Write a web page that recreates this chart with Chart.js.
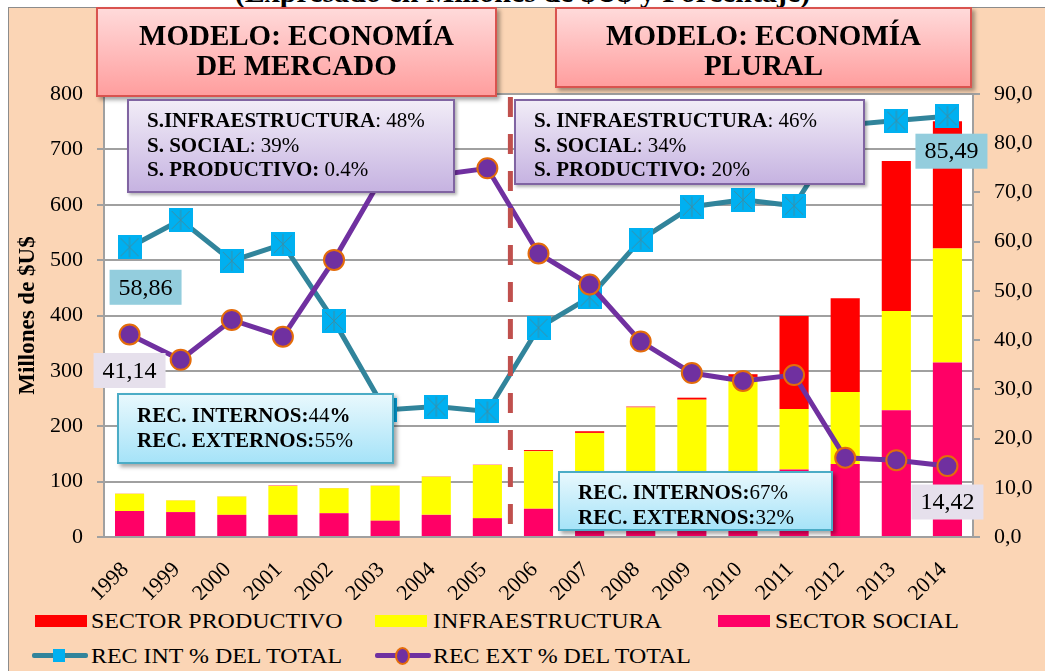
<!DOCTYPE html>
<html>
<head>
<meta charset="utf-8">
<script src="https://cdn.jsdelivr.net/npm/chart.js@4.4.1/dist/chart.umd.min.js"></script>
<style>
  body { margin: 0; width: 1045px; height: 671px; overflow: hidden; background: #fff; position: relative;
         font-family: "Liberation Serif", "Times New Roman", serif; color: #000; }
  #head { position: absolute; left: 0; top: -23px; width: 1045px; text-align: center;
          font-weight: bold; font-size: 30px; line-height: 30px; }
  #frame { position: absolute; left: 8px; top: 7px; right: 0; bottom: 0; background: #FBD5B5;
           border-left: 1px solid #8c8c8c; border-top: 1px solid #8c8c8c; }
  #wrap { position: absolute; left: 0; top: 0; width: 1045px; height: 600px; }
  .box { position: absolute; box-sizing: border-box; white-space: nowrap; }
  .model { border: 2px solid #D9534F; background: linear-gradient(#FFDADA, #FF9E9E);
           box-shadow: 3px 3px 4px rgba(0,0,0,0.35); text-align: center; font-weight: bold;
           font-size: 29px; line-height: 30px; padding-top: 11px; }
  .share { border: 2px solid #8064A2; background: linear-gradient(#F1ECF7, #C6B3E1);
           box-shadow: 2px 2px 3px rgba(0,0,0,0.3); font-size: 21px; line-height: 24.5px;
           padding: 7px 0 0 18px; }
  .rec { border: 2px solid #4BACC6; background: linear-gradient(#E8F8FD, #A6E3F8);
         box-shadow: 3px 3px 4px rgba(0,0,0,0.35); font-size: 21px; line-height: 25px;
         padding: 8px 0 0 18px; }
  .legend { position: absolute; font-size: 21px; line-height: 24px; }
  .legend span.t { display: inline-block; transform: scaleX(1.14); transform-origin: left center; }
  .sw { position: absolute; width: 52px; height: 12px; }
  .ln { position: absolute; width: 56px; height: 5px; }
  .mk { position: absolute; }
</style>
</head>
<body>
<div id="head">(Expresado en Millones de $U$ y Porcentaje)</div>
<div id="frame"></div>
<div id="wrap"><canvas id="chart"></canvas></div>

<div class="box model" style="left:96px;top:7px;width:401px;height:90px;">MODELO: ECONOMÍA<br>DE MERCADO</div>
<div class="box model" style="left:555px;top:7px;width:417px;height:81px;">MODELO: ECONOMÍA<br>PLURAL</div>

<div class="box share" style="left:127px;top:99px;width:328px;height:94px;">
  <b>S.INFRAESTRUCTURA</b>: 48%<br><b>S. SOCIAL</b>: 39%<br><b>S. PRODUCTIVO:</b> 0.4%
</div>
<div class="box share" style="left:514px;top:99px;width:351px;height:86px;">
  <b>S. INFRAESTRUCTURA</b>: 46%<br><b>S. SOCIAL</b>: 34%<br><b>S. PRODUCTIVO:</b> 20%
</div>

<div class="box rec" style="left:117px;top:393px;width:277px;height:71px;">
  <b>REC. INTERNOS:</b>44<b>%</b><br><b>REC. EXTERNOS:</b>55%
</div>
<div class="box rec" style="left:558px;top:471px;width:275px;height:60px;padding-top:7px;">
  <b>REC. INTERNOS:</b>67%<br><b>REC. EXTERNOS:</b>32%
</div>

<!-- legend -->
<div class="sw" style="left:35px;top:615px;background:#FF0000;"></div>
<div class="legend" style="left:91px;top:609px;"><span class="t">SECTOR PRODUCTIVO</span></div>
<div class="sw" style="left:375px;top:615px;background:#FFFF00;"></div>
<div class="legend" style="left:433px;top:609px;"><span class="t">INFRAESTRUCTURA</span></div>
<div class="sw" style="left:718px;top:615px;background:#FF0066;"></div>
<div class="legend" style="left:775px;top:609px;"><span class="t">SECTOR SOCIAL</span></div>

<div class="ln" style="left:32px;top:653px;background:#31849B;border-radius:2px;"></div>
<div class="mk" style="left:53px;top:649px;width:12px;height:13px;background:#00B0F0;"></div>
<div class="legend" style="left:91px;top:644px;"><span class="t">REC INT % DEL TOTAL</span></div>
<div class="ln" style="left:375px;top:653px;background:#7030A0;border-radius:2px;"></div>
<div class="mk" style="left:395px;top:647px;width:11px;height:14px;background:#7030A0;border:2px solid #E46C0A;border-radius:50%;"></div>
<div class="legend" style="left:433px;top:644px;"><span class="t">REC EXT % DEL TOTAL</span></div>

<script>
// ---- Data (millones de $U$ y porcentaje) ----
const YEARS = ["1998", "1999", "2000", "2001", "2002", "2003", "2004", "2005", "2006",
  "2007", "2008", "2009", "2010", "2011", "2012", "2013", "2014"];

const SECTOR_SOCIAL = [47, 45, 40, 40, 43, 29.5, 40, 34, 51, 60, 70, 80, 94, 122, 132, 229, 315];
const INFRAESTRUCTURA = [31, 21, 33, 52, 45, 63, 69, 96, 104, 128, 164, 168, 195, 109, 130, 179, 206];
const SECTOR_PRODUCTIVO = [0.3, 0.3, 0.3, 0.8, 0.5, 0.3, 0.5, 0.5, 2, 3, 1.5, 3.6, 5, 168, 169, 271, 230];

const REC_INT = [58.86, 64.4, 56.1, 59.5, 43.9, 25.8, 26.5, 25.5, 42.5, 48.7, 60.4, 67.1, 68.5, 67.3, 83.7, 84.6, 85.49];
const REC_EXT = [41.14, 36.0, 44.1, 40.7, 56.3, 74.2, 73.5, 74.9, 57.6, 51.3, 39.7, 33.3, 31.7, 32.9, 16.1, 15.6, 14.42];

const LEFT_TICKS = { min: 0, max: 800, step: 100 };
const RIGHT_TICKS = { min: 0, max: 90, step: 10 };

// divider between both economic models (category index, between 2005 and 2006)
const DIVIDER_AT = 7.45;

const FONT = "'Liberation Serif', 'Times New Roman', serif";
const GRID = "#A0A0A0";

// ---- Marker for REC INT: blue square with a star ----
function squareMarker(size) {
  const c = document.createElement("canvas");
  c.width = size; c.height = size;
  const g = c.getContext("2d");
  g.fillStyle = "#00B0F0";
  g.fillRect(0, 0, size, size);
  g.strokeStyle = "#3A8FA8";
  g.lineWidth = 1;
  g.beginPath();
  g.moveTo(3, 3); g.lineTo(size - 3, size - 3);
  g.moveTo(size - 3, 3); g.lineTo(3, size - 3);
  g.moveTo(size / 2, 2); g.lineTo(size / 2, size - 2);
  g.stroke();
  return c;
}

// value callouts on the first / last points of both lines
const CALLOUTS = [
  { ds: 3, idx: 0, dx: 16, dy: 40, bg: "#93CDDD" },
  { ds: 3, idx: 16, dx: 4, dy: 35, bg: "#93CDDD" },
  { ds: 4, idx: 0, dx: 0, dy: 36, bg: "#E6E0EC" },
  { ds: 4, idx: 16, dx: 0, dy: 36, bg: "#E6E0EC" },
];

const plotBackground = {
  id: "plotBackground",
  beforeDraw(chart) {
    const a = chart.chartArea;
    chart.ctx.save();
    chart.ctx.fillStyle = "#fff";
    chart.ctx.fillRect(a.left, a.top, a.right - a.left, a.bottom - a.top);
    chart.ctx.restore();
  },
};

const dividerLine = {
  id: "dividerLine",
  afterDatasetsDraw(chart) {
    const x = chart.scales.x.getPixelForValue(DIVIDER_AT);
    const a = chart.chartArea;
    const ctx = chart.ctx;
    ctx.save();
    ctx.strokeStyle = "#C0504D";
    ctx.lineWidth = 5;
    ctx.setLineDash([20, 17]);
    ctx.beginPath();
    ctx.moveTo(x, a.top + 3);
    ctx.lineTo(x, a.bottom);
    ctx.stroke();
    ctx.restore();
  },
};

const callouts = {
  id: "callouts",
  afterDatasetsDraw(chart) {
    const ctx = chart.ctx;
    ctx.save();
    ctx.font = "24px " + FONT;
    ctx.textAlign = "center";
    ctx.textBaseline = "middle";
    for (const c of CALLOUTS) {
      const pt = chart.getDatasetMeta(c.ds).data[c.idx];
      const v = chart.data.datasets[c.ds].data[c.idx];
      const cx = pt.x + c.dx, cy = pt.y + c.dy;
      ctx.fillStyle = c.bg;
      ctx.fillRect(cx - 36, cy - 17.5, 72, 35);
      ctx.fillStyle = "#000";
      ctx.fillText(v.toFixed(2).replace(".", ","), cx, cy + 1);
    }
    ctx.restore();
  },
};

const barOpts = { type: "bar", yAxisID: "y", stack: "s", order: 3, barPercentage: 0.57, categoryPercentage: 1, borderWidth: 0 };

new Chart(document.getElementById("chart"), {
  data: {
    labels: YEARS,
    datasets: [
      { ...barOpts, label: "SECTOR SOCIAL", data: SECTOR_SOCIAL, backgroundColor: "#FF0066" },
      { ...barOpts, label: "INFRAESTRUCTURA", data: INFRAESTRUCTURA, backgroundColor: "#FFFF00" },
      { ...barOpts, label: "SECTOR PRODUCTIVO", data: SECTOR_PRODUCTIVO, backgroundColor: "#FF0000" },
      {
        type: "line", label: "REC INT % DEL TOTAL", data: REC_INT, yAxisID: "y1", order: 1,
        borderColor: "#31849B", borderWidth: 5, tension: 0,
        pointStyle: squareMarker(24), pointRadius: 12,
      },
      {
        type: "line", label: "REC EXT % DEL TOTAL", data: REC_EXT, yAxisID: "y1", order: 0,
        borderColor: "#7030A0", borderWidth: 5, tension: 0,
        pointStyle: "circle", pointRadius: 10, pointBackgroundColor: "#7030A0",
        pointBorderColor: "#E46C0A", pointBorderWidth: 2,
      },
    ],
  },
  options: {
    responsive: true,
    maintainAspectRatio: false,
    animation: false,
    events: [],
    layout: { padding: { top: 94, left: 8, right: 0, bottom: 0 } },
    plugins: { legend: { display: false }, tooltip: { enabled: false } },
    scales: {
      x: {
        stacked: true,
        offset: true,
        grid: { display: false },
        border: { display: true, color: GRID, width: 2 },
        ticks: { minRotation: 45, maxRotation: 45, padding: 12, labelOffset: -4, color: "#000", font: { family: FONT, size: 22 } },
        afterFit(s) { s.height = 63; },
      },
      y: {
        position: "left",
        stacked: true,
        min: LEFT_TICKS.min, max: LEFT_TICKS.max,
        ticks: { stepSize: LEFT_TICKS.step, padding: 14, color: "#000", font: { family: FONT, size: 22 } },
        grid: { color: GRID, lineWidth: 2, tickLength: 7 },
        border: { color: GRID, width: 2 },
        title: {
          display: true, text: "Millones de $U$", color: "#000",
          font: { family: FONT, size: 23, weight: "bold" }, padding: { top: 6, bottom: 0 },
        },
        afterFit(s) { s.width = 96; },
      },
      y1: {
        position: "right",
        min: RIGHT_TICKS.min, max: RIGHT_TICKS.max,
        ticks: {
          stepSize: RIGHT_TICKS.step, padding: 14, color: "#000", font: { family: FONT, size: 22 },
          callback: (v) => v.toFixed(1).replace(".", ","),
        },
        grid: { drawOnChartArea: false, color: GRID, lineWidth: 2, tickLength: 7 },
        border: { color: GRID, width: 2 },
        afterFit(s) { s.width = 72; },
      },
    },
  },
  plugins: [plotBackground, dividerLine, callouts],
});
</script>
</body>
</html>
